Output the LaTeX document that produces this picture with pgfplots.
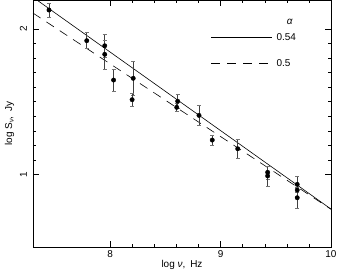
\documentclass[border=0pt]{standalone}
\usepackage{fontspec}
\setmainfont{Liberation Sans}
\usepackage{pgfplots}
\pgfplotsset{compat=1.18}
\begin{document}
\begin{tikzpicture}
\begin{axis}[
  scale only axis, width=298bp, height=247bp,
  xmin=7.3, xmax=10, ymin=0.5, ymax=2.2,
  xtick={8,9,10}, ytick={1,2},
  minor x tick num=4, minor y tick num=9,
  tick align=inside, major tick length=6bp, minor tick length=3.3bp,
  tick style={line width=0.5bp, black},
  axis line style={line width=0.6bp},
  /pgf/number format/assume math mode=true,
  ticklabel style={font=\fontsize{10}{12}\selectfont},
  yticklabel style={rotate=90, anchor=south},
  yticklabel shift=2.5bp,
  xticklabel shift=0.5bp,
  label style={font=\fontsize{10}{12}\selectfont},
  xlabel={log \textit{ν},\enspace Hz},
  ylabel={log S\textsubscript{\textit{ν}},\enspace Jy},
  xlabel style={yshift=5bp},
  ylabel style={yshift=-1bp},
  clip=true,
]
\coordinate (O) at (rel axis cs:0,0);
\addplot[black, line width=0.6bp] coordinates {(7.3,2.219) (10,0.761)};
\addplot[black, line width=0.6bp, dash pattern=on 9bp off 7bp] coordinates {(7.3,2.11) (10,0.76)};
\addplot[only marks, mark=*, mark size=2.2bp, black,
  error bars/.cd, y dir=both, y explicit,
  error bar style={line width=0.5bp, black!75},
  error mark options={rotate=90, mark size=2bp, black!55, line width=0.5bp}]
  table[x=x, y=y, y error=e] {
x y e
7.445 2.131 0.05
7.787 1.920 0.055
7.950 1.885 0.08
7.950 1.826 0.10
8.030 1.649 0.075
8.208 1.661 0.115
8.198 1.514 0.045
8.611 1.503 0.045
8.602 1.461 0.03
8.804 1.406 0.068
8.924 1.236 0.035
9.155 1.176 0.068
9.426 1.014 0.045
9.426 0.989 0.07
9.694 0.931 0.055
9.694 0.892 0.05
9.694 0.839 0.073
};
\draw[black, line width=0.6bp] (axis cs:8.917,1.943) -- (axis cs:9.462,1.943);
\draw[black, line width=0.6bp, dash pattern=on 9bp off 7bp] (axis cs:8.917,1.765) -- (axis cs:9.434,1.765);
\node[font=\fontsize{10}{12}\selectfont] at (axis cs:9.628,2.048) {\textit{α}};
\node[anchor=west, inner sep=0pt, font=\fontsize{10}{12}\selectfont] at (axis cs:9.505,1.943) {0.54};
\node[anchor=west, inner sep=0pt, font=\fontsize{10}{12}\selectfont] at (axis cs:9.505,1.765) {0.5};
\end{axis}
\pgfresetboundingbox
\useasboundingbox (O) ++(-33bp,-33bp) rectangle ++(338bp,280bp);
\end{tikzpicture}
\end{document}
